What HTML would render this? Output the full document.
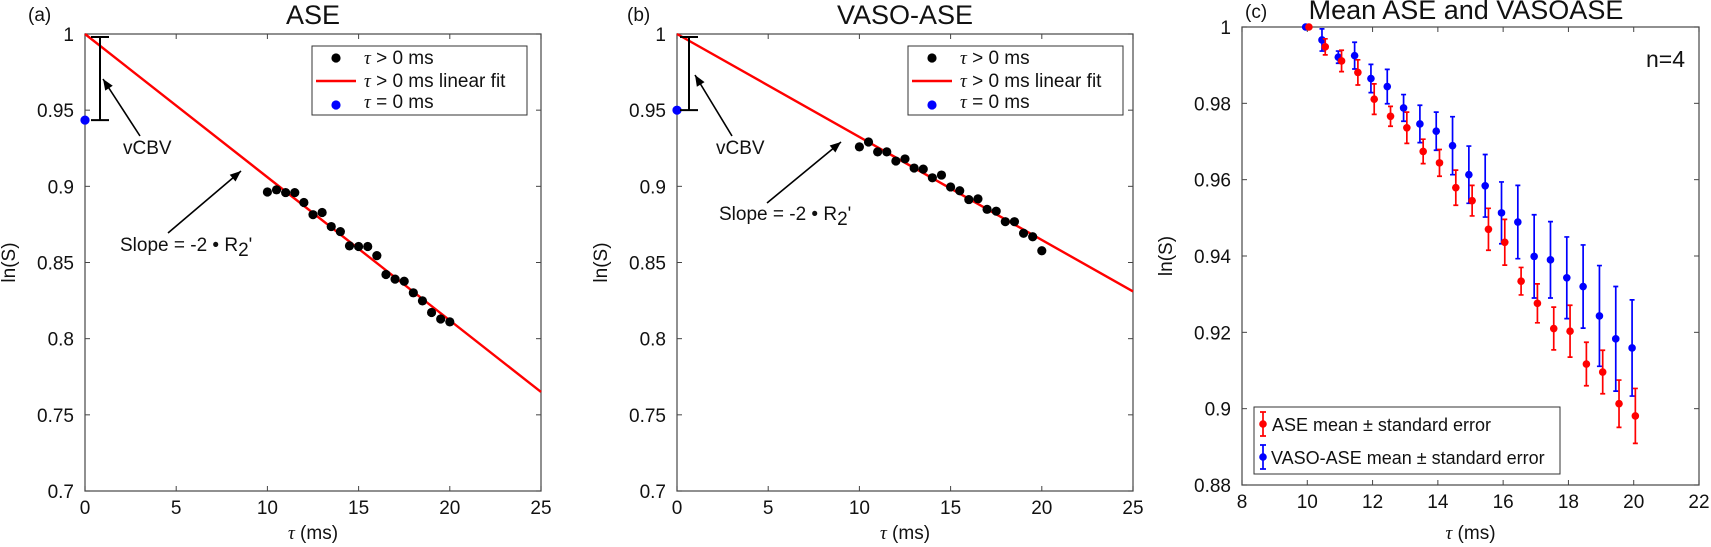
<!DOCTYPE html>
<html><head><meta charset="utf-8"><style>
html,body{margin:0;padding:0;background:#fff}
svg{display:block;font-family:"Liberation Sans",sans-serif}
</style></head><body>
<svg id="fig" width="1711" height="547" viewBox="0 0 1711 547"></svg>
<script>
// Panel (a) ASE data
const tauFit = [10,10.5,11,11.5,12,12.5,13,13.5,14,14.5,15,15.5,16,16.5,17,17.5,18,18.5,19,19.5,20];
const aseVals = [0.8963,0.8977,0.8959,0.8959,0.8894,0.8814,0.8828,0.8736,0.8703,0.8609,0.8605,0.8605,0.8545,0.8421,0.8391,0.8377,0.8301,0.8248,0.8172,0.8129,0.8110];
const aseFit = [1.0, 0.765];      // value at tau=0 and tau=25
const aseZero = 0.9435;
// Panel (b) VASO-ASE data
const vasoVals = [0.9259,0.9291,0.9226,0.9226,0.9166,0.9180,0.9120,0.9113,0.9056,0.9074,0.8996,0.8971,0.8913,0.8918,0.8849,0.8837,0.8768,0.8768,0.8692,0.8669,0.8577];
const vasoFit = [1.0, 0.831];
const vasoZero = 0.950;
// Panel (c) means
const meanTau = [10,10.5,11,11.5,12,12.5,13,13.5,14,14.5,15,15.5,16,16.5,17,17.5,18,18.5,19,19.5,20];
const aseMean = [1.0,0.9948,0.9911,0.9881,0.9811,0.9766,0.9736,0.9674,0.9644,0.9579,0.9545,0.9470,0.9436,0.9334,0.9276,0.9210,0.9203,0.9117,0.9096,0.9013,0.8981];
const aseErr = [0,0.0021,0.0028,0.0033,0.0040,0.0026,0.0041,0.0032,0.0035,0.0046,0.0040,0.0055,0.0060,0.0036,0.0051,0.0056,0.0068,0.0057,0.0057,0.0062,0.0072];
const vasoMean = [1.0,0.9966,0.9921,0.9925,0.9865,0.9844,0.9788,0.9746,0.9727,0.9689,0.9613,0.9584,0.9513,0.9489,0.9399,0.9390,0.9343,0.9320,0.9243,0.9183,0.9159];
const vasoErr = [0,0.0029,0.0016,0.0035,0.0037,0.0045,0.0035,0.0049,0.0050,0.0076,0.0075,0.0082,0.0081,0.0096,0.0109,0.0100,0.0107,0.0109,0.0132,0.0137,0.0126];
const abXTicks = [0,5,10,15,20,25];
const abYTicks = ['0.7','0.75','0.8','0.85','0.9','0.95','1'];
const cXTicks = [8,10,12,14,16,18,20,22];
const cYTicks = ['0.88','0.9','0.92','0.94','0.96','0.98','1'];

const svg = document.getElementById('fig');
const NS = 'http://www.w3.org/2000/svg';
function mk(tag, attrs, parent, text){
  const e = document.createElementNS(NS, tag);
  for (const k in attrs) e.setAttribute(k, attrs[k]);
  if (text !== undefined) e.textContent = text;
  (parent || svg).appendChild(e);
  return e;
}
function axisFns(L,R,T,B,x0,x1,y0,y1){
  return {x: v => L + (v - x0) / (x1 - x0) * (R - L), y: v => B - (v - y0) / (y1 - y0) * (B - T)};
}
function drawAxes(g, L,R,T,B, sx, sy, xt, yt, name){
  const box = mk('rect',{x:L,y:T,width:R-L,height:B-T,fill:'none',stroke:'#555','stroke-width':1.3},g);
  
  
  xt.forEach(v => {
    const X = sx(v);
    mk('line',{x1:X,x2:X,y1:B,y2:B-5,stroke:'#444'},g);
    mk('line',{x1:X,x2:X,y1:T,y2:T+5,stroke:'#444'},g);
    const t = mk('text',{x:X,y:B+23,'font-size':19,'text-anchor':'middle',fill:'#111'},g,String(v));
    
    
  });
  yt.forEach(s => {
    const Y = sy(parseFloat(s));
    mk('line',{x1:L,x2:L+5,y1:Y,y2:Y,stroke:'#444'},g);
    mk('line',{x1:R,x2:R-5,y1:Y,y2:Y,stroke:'#444'},g);
    const t = mk('text',{x:L-11,y:Y+7,'font-size':19,'text-anchor':'end',fill:'#111'},g,s);
    
    
  });
}
function label(g, x, y, txt, size, anchor, name, rot){
  const a = {x:x,y:y,'font-size':size,'text-anchor':anchor||'start',fill:'#111'};
  if (rot) a.transform = 'rotate(-90 ' + x + ' ' + y + ')';
  const t = mk('text',a,g);
  t.innerHTML = txt;
  
  
  return t;
}
function arrow(g, x1,y1,x2,y2, name){
  const l = mk('line',{x1:x1,y1:y1,x2:x2,y2:y2,stroke:'#000','stroke-width':1.6},g);
  
  
  const ang = Math.atan2(y2-y1, x2-x1), h = 11, w = 4.5;
  const bx = x2 - h*Math.cos(ang), by = y2 - h*Math.sin(ang);
  const px = -Math.sin(ang)*w, py = Math.cos(ang)*w;
  mk('polygon',{points:`${x2},${y2} ${bx+px},${by+py} ${bx-px},${by-py}`,fill:'#000'},g);
}
const TAU = '<tspan font-family="Liberation Serif" font-style="italic">τ</tspan>';

function linePanel(id, L,R,T,B, vals, fit, zero, title, letter, brX, arrows, legendBox){
  const g = mk('g',{});
  
  
  const ax = axisFns(L,R,T,B,0,25,0.7,1);
  drawAxes(g,L,R,T,B,ax.x,ax.y,abXTicks,abYTicks,'panel-'+id);
  const fl = mk('line',{x1:ax.x(0),y1:ax.y(fit[0]),x2:ax.x(25),y2:ax.y(fit[1]),stroke:'#f00','stroke-width':2.4},g);
  
  
  tauFit.forEach((t,i) => {
    const c = mk('circle',{cx:ax.x(t),cy:ax.y(vals[i]),r:4.6,fill:'#000'},g);
    
    
  });
  const bz = mk('circle',{cx:ax.x(0),cy:ax.y(zero),r:4.6,fill:'#00f'},g);
  
  
  const X = brX, y1 = ax.y(0.998), y2 = ax.y(zero);
  const br = mk('path',{d:`M${X-9},${y1}H${X+9}M${X},${y1}V${y2}M${X-9},${y2}H${X+9}`,stroke:'#000','stroke-width':2,fill:'none'},g);
  
  
  arrow(g, arrows.v[0],arrows.v[1],arrows.v[2],arrows.v[3],'vcbv-arrow');
  label(g, arrows.vt[0], arrows.vt[1], 'vCBV', 19, 'start', 'vcbv-label');
  arrow(g, arrows.s[0],arrows.s[1],arrows.s[2],arrows.s[3],'slope-arrow');
  label(g, arrows.st[0], arrows.st[1], 'Slope = -2 • R<tspan dy="5">2</tspan><tspan dy="-5">\'</tspan>', 19, 'start', 'slope-label');
  label(g, (L+R)/2, 24, title, 27, 'middle', 'panel-title');
  label(g, letter, 21, '('+id+')', 19, 'start', 'panel-letter');
  label(g, (L+R)/2, 539, TAU+' (ms)', 19, 'middle', 'x-axis-title');
  label(g, L-70, (T+B)/2, 'ln(S)', 19, 'middle', 'y-axis-title', true);
  const [lx, lw] = legendBox;
  const lg = mk('g',{},g);
  
  
  mk('rect',{x:lx,y:46,width:lw,height:69,fill:'#fff',stroke:'#333','stroke-width':1},lg);
  mk('circle',{cx:lx+24,cy:58,r:4.6,fill:'#000'},lg);
  mk('line',{x1:lx+4,x2:lx+44,y1:81,y2:81,stroke:'#f00','stroke-width':2.4},lg);
  mk('circle',{cx:lx+24,cy:105,r:4.6,fill:'#00f'},lg);
  label(lg, lx+52, 64, TAU+' &gt; 0 ms', 19, 'start', 'legend-entry');
  label(lg, lx+52, 87, TAU+' &gt; 0 ms linear fit', 19, 'start', 'legend-entry');
  label(lg, lx+52, 108, TAU+' = 0 ms', 19, 'start', 'legend-entry');
}

linePanel('a', 85,541,34,491, aseVals, aseFit, aseZero, 'ASE', 28, 100,
  {v:[140,136,103,79], vt:[123,154], s:[168,233,241,171], st:[120,251]}, [312,215]);
linePanel('b', 677,1133,34,491, vasoVals, vasoFit, vasoZero, 'VASO-ASE', 627, 689,
  {v:[732,136,695,75], vt:[716,154], s:[767,203,841,142], st:[719,220]}, [908,215]);

// Panel (c)
(function(){
  const L=1242,R=1699,T=27,B=485;
  const g = mk('g',{});
  
  
  const ax = axisFns(L,R,T,B,8,22,0.88,1);
  drawAxes(g,L,R,T,B,ax.x,ax.y,cXTicks,cYTicks,'panel-c');
  function series(means, errs, dx, color, name){
    meanTau.forEach((t,i) => {
      const X = ax.x(t+dx), yT = ax.y(means[i]+errs[i]), yB = ax.y(means[i]-errs[i]);
      if (errs[i] > 0){
        const e = mk('path',{d:`M${X},${yT}V${yB}M${X-2.5},${yT}H${X+2.5}M${X-2.5},${yB}H${X+2.5}`,stroke:color,'stroke-width':1.7,fill:'none'},g);
        
        
      }
      const c = mk('circle',{cx:X,cy:ax.y(means[i]),r:3.8,fill:color},g);
      
      
    });
  }
  series(vasoMean, vasoErr, -0.05, '#00f', 'vaso-ase');
  series(aseMean, aseErr, 0.05, '#f00', 'ase');
  label(g, 1466, 19, 'Mean ASE and VASOASE', 27, 'middle', 'panel-title');
  label(g, 1245, 18, '(c)', 19, 'start', 'panel-letter');
  label(g, 1646, 67, 'n=4', 23, 'start', 'sample-size-label');
  label(g, (L+R)/2, 539, TAU+' (ms)', 19, 'middle', 'x-axis-title');
  label(g, 1172, (T+B)/2, 'ln(S)', 19, 'middle', 'y-axis-title', true);
  const lg = mk('g',{},g);
  
  
  mk('rect',{x:1254,y:407,width:306,height:67,fill:'#fff',stroke:'#333','stroke-width':1},lg);
  mk('path',{d:'M1263,412V436M1260,412H1266M1260,436H1266',stroke:'#f00','stroke-width':1.7,fill:'none'},lg);
  mk('circle',{cx:1263,cy:424,r:3.8,fill:'#f00'},lg);
  mk('path',{d:'M1263,445V469M1260,445H1266M1260,469H1266',stroke:'#00f','stroke-width':1.7,fill:'none'},lg);
  mk('circle',{cx:1263,cy:457,r:3.8,fill:'#00f'},lg);
  label(lg, 1272, 431, 'ASE mean ± standard error', 18, 'start', 'legend-entry');
  label(lg, 1271, 464, 'VASO-ASE mean ± standard error', 18, 'start', 'legend-entry');
})();
</script>
</body></html>
